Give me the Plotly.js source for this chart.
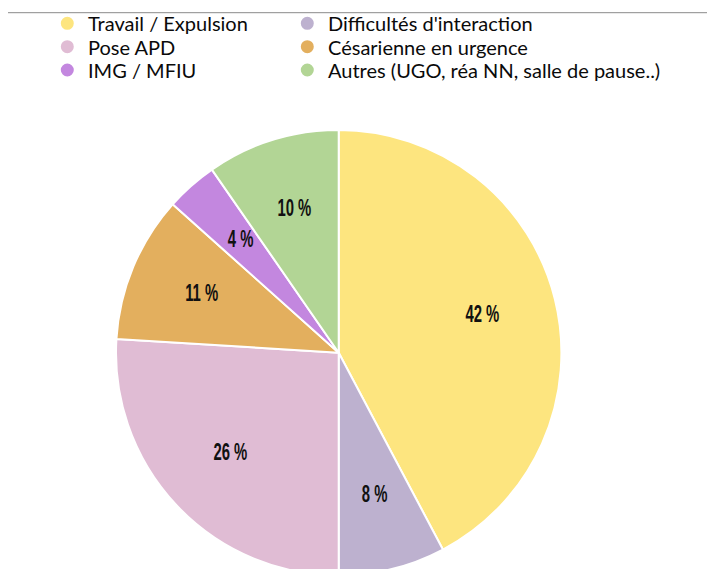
<!DOCTYPE html>
<html>
<head>
<meta charset="utf-8">
<script src="https://cdn.plot.ly/plotly-3.0.1.min.js"></script>
<style>
html,body{margin:0;padding:0;overflow:hidden;background:#fff;width:707px;height:569px;}
#chart{width:707px;height:580px;}
</style>
</head>
<body>
<div id="chart"></div>
<script>
const categories = ["Travail / Expulsion", "Difficultés d'interaction", "Pose APD", "Césarienne en urgence", "IMG / MFIU", "Autres (UGO, réa NN, salle de pause..)"];
const values = [42.25, 7.75, 25.98, 10.63, 3.75, 9.64];
const colors = ["#FDE57F", "#BDB1CF", "#E0BCD4", "#E3AF5E", "#C387DF", "#B2D595"];

const W = 707, H = 580;
const cx = 338.7, cy = 352.7, r = 222.7;
const px = v => v / W, py = v => 1 - v / H;

const traces = [{
  type: 'pie',
  labels: categories,
  values: values,
  sort: false,
  direction: 'clockwise',
  rotation: 0,
  marker: {colors: colors, line: {color: '#ffffff', width: 2}},
  textinfo: 'none',
  hoverinfo: 'label+percent',
  showlegend: false,
  domain: {x: [px(cx - r), px(cx + r)], y: [py(cy + r), py(cy - r)]}
}];

const annotations = [];
// slice labels, placed along each slice's bisector (computed from the values)
const total = values.reduce((a, b) => a + b, 0);
let cum = 0;
values.forEach(v => {
  const mid = (cum + v / 2) / total * 2 * Math.PI;
  cum += v;
  const rr = 0.667 * r;
  annotations.push({
    xref: 'paper', yref: 'paper',
    x: px(cx + rr * Math.sin(mid)), y: py(cy - rr * Math.cos(mid) - 3),
    text: Math.round(v / total * 100) + ' %', showarrow: false,
    xanchor: 'center', yanchor: 'middle',
    font: {family: 'Liberation Sans, Arial, sans-serif', size: 24, color: '#111', weight: 'bold'}
  });
});

// legend (two columns, three rows, filled row by row)
const shapes = [{type: 'line', xref: 'paper', yref: 'paper', x0: px(8), x1: 1, y0: py(12.7), y1: py(12.7),
  line: {color: '#8a8a8a', width: 1}}];
const colX = [67.3, 307.3], rowY = [23.3, 46.7, 70];
categories.forEach((c, i) => {
  const mx = colX[i % 2], my = rowY[Math.floor(i / 2)];
  shapes.push({type: 'circle', xref: 'paper', yref: 'paper',
    x0: px(mx - 6.5), x1: px(mx + 6.5), y0: py(my + 6.5), y1: py(my - 6.5),
    fillcolor: colors[i], line: {width: 0}});
  annotations.push({xref: 'paper', yref: 'paper', x: px(mx + 19), y: py(my),
    text: c, showarrow: false, xanchor: 'left', yanchor: 'middle',
    font: {family: 'Lato, Open Sans, sans-serif', size: 20, color: '#0a0a0a'}});
});

const layout = {
  width: W, height: H,
  margin: {l: 0, r: 0, t: 0, b: 0},
  paper_bgcolor: '#fff', plot_bgcolor: '#fff',
  showlegend: false,
  annotations: annotations,
  shapes: shapes
};

Plotly.newPlot('chart', traces, layout, {displayModeBar: false, staticPlot: true}).then(gd => {
  for (let i = 0; i < values.length; i++) {
    const t = gd.querySelector('.annotation[data-index="' + i + '"] text.annotation-text');
    if (!t) continue;
    const b = t.getBBox();
    const c = b.x + b.width / 2;
    t.setAttribute('transform', 'translate(' + c + ',0) scale(0.62,1) translate(' + (-c) + ',0)');
  }
});
</script>
</body>
</html>
